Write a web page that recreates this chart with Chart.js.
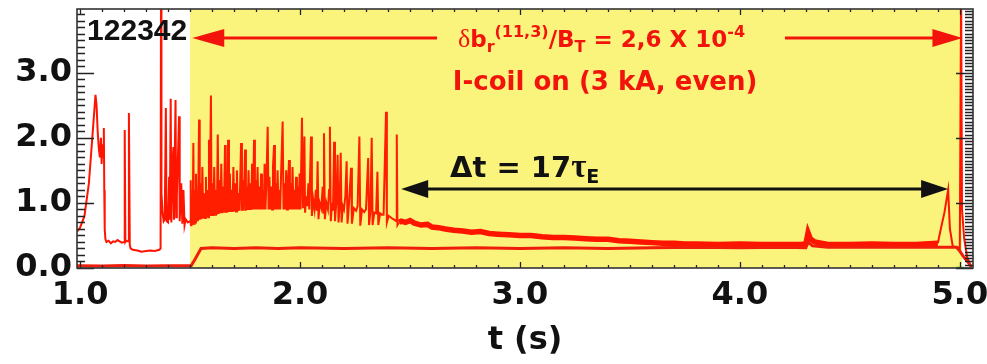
<!DOCTYPE html>
<html>
<head>
<meta charset="utf-8">
<script src="https://cdn.jsdelivr.net/npm/chart.js@4.4.1/dist/chart.umd.min.js"></script>
<style>
    html, body { margin: 0; padding: 0; background: #fff; }
    canvas { display: block; }
</style>
</head>
<body>
<canvas id="dalphaChart" width="987" height="364"></canvas>
<script>
// ---- data (t in s) ----
const shotNumber = '122342';
const xTickValues = [1, 2, 3, 4, 5];
const yTickValues = [0, 1, 2, 3];
const coilOnWindow = [1.5, 5.01];        // yellow band, I-coil on
const coilArrow = [1.51, 5.012, 3.54];   // red double arrow: from, to, level
const deltaTArrow = [2.46, 4.947, 1.21]; // black double arrow: from, to, level

// L-mode / early phase of the main trace
const earlyPts = [
    [0.986, 0.56], [1.00, 0.62], [1.02, 0.8], [1.04, 1.3], [1.06, 2.2], [1.07, 2.66], [1.075, 2.5],
    [1.08, 2.1], [1.085, 1.85], [1.09, 1.7], [1.095, 2.0], [1.098, 1.6], [1.10, 1.9], [1.105, 1.7],
    [1.108, 2.15], [1.11, 1.2], [1.112, 0.6], [1.115, 0.45], [1.12, 0.40], [1.13, 0.42], [1.14, 0.38],
    [1.15, 0.41], [1.16, 0.40], [1.17, 0.43], [1.18, 0.41], [1.19, 0.39], [1.20, 0.40], [1.203, 2.12],
    [1.206, 0.40], [1.21, 0.42], [1.218, 0.41], [1.222, 2.38], [1.226, 0.35], [1.23, 0.30], [1.24, 0.28],
    [1.26, 0.27], [1.28, 0.25], [1.30, 0.26], [1.32, 0.27], [1.34, 0.26], [1.36, 0.28], [1.366, 0.30],
    [1.368, 4.3], [1.370, 1.15], [1.375, 0.85], [1.38, 0.72], [1.385, 0.75], [1.39, 2.46], [1.393, 0.72],
    [1.40, 0.70], [1.405, 1.4], [1.408, 0.74], [1.412, 2.6], [1.415, 0.70], [1.42, 1.5], [1.424, 1.86],
    [1.427, 0.74], [1.43, 1.6], [1.434, 2.58], [1.437, 0.78], [1.44, 1.1], [1.45, 2.33], [1.453, 0.72],
    [1.46, 1.3], [1.465, 0.68], [1.47, 1.2], [1.475, 0.66], [1.48, 0.75], [1.49, 0.70], [1.50, 0.72]
];

// ELMy H-mode phase
const elmPts = [
    [1.500, 0.66], [1.503, 1.35], [1.506, 0.64], [1.509, 1.1], [1.512, 0.66], [1.515, 1.92], [1.518, 0.68],
    [1.521, 1.2], [1.524, 0.70], [1.527, 1.45], [1.530, 0.72], [1.533, 1.05], [1.536, 0.72], [1.541, 2.28],
    [1.544, 0.74], [1.548, 1.3], [1.552, 0.75], [1.556, 1.55], [1.560, 0.76], [1.564, 1.15], [1.568, 0.77],
    [1.572, 1.4], [1.576, 0.78], [1.580, 1.2], [1.583, 0.78], [1.586, 1.97], [1.589, 0.8], [1.595, 2.65],
    [1.598, 0.8], [1.602, 1.3], [1.606, 0.8], [1.610, 1.55], [1.614, 0.82], [1.618, 1.2], [1.622, 0.82],
    [1.626, 2.05], [1.630, 0.83], [1.634, 1.35], [1.638, 0.84], [1.642, 1.6], [1.646, 0.84], [1.650, 1.25],
    [1.654, 0.85], [1.659, 1.89], [1.662, 0.85], [1.666, 1.3], [1.669, 0.85], [1.673, 1.97], [1.677, 0.86],
    [1.681, 1.45], [1.685, 0.86], [1.689, 1.2], [1.693, 0.86], [1.697, 1.55], [1.701, 0.87], [1.705, 1.3],
    [1.709, 0.87], [1.713, 1.5], [1.717, 0.87], [1.721, 1.15], [1.725, 0.88], [1.732, 1.92], [1.736, 0.88],
    [1.740, 1.35], [1.744, 0.88], [1.750, 1.82], [1.754, 0.88], [1.758, 1.25], [1.762, 0.89], [1.766, 1.5],
    [1.770, 0.89], [1.774, 1.3], [1.778, 0.89], [1.782, 1.6], [1.786, 0.9], [1.791, 1.97], [1.795, 0.9],
    [1.799, 1.35], [1.803, 0.9], [1.807, 1.55], [1.811, 0.9], [1.815, 1.25], [1.819, 0.9], [1.823, 1.45],
    [1.827, 0.9], [1.831, 1.2], [1.835, 0.9], [1.839, 1.6], [1.843, 0.9], [1.847, 1.3], [1.853, 2.17],
    [1.857, 0.9], [1.861, 1.4], [1.865, 0.9], [1.869, 1.25], [1.873, 0.9], [1.877, 1.55], [1.882, 1.89],
    [1.886, 0.9], [1.890, 1.3], [1.894, 0.9], [1.898, 1.5], [1.902, 0.9], [1.906, 1.2], [1.910, 0.9],
    [1.914, 1.45], [1.921, 2.25], [1.925, 0.9], [1.929, 1.3], [1.933, 0.9], [1.937, 1.5], [1.941, 0.9],
    [1.945, 1.25], [1.950, 1.66], [1.954, 0.9], [1.958, 1.3], [1.962, 0.9], [1.966, 1.55], [1.970, 0.9],
    [1.974, 1.2], [1.978, 0.9], [1.982, 1.4], [1.986, 0.9], [1.990, 1.25], [1.994, 0.9], [1.998, 1.45],
    [2.002, 0.9], [2.009, 2.31], [2.013, 0.92], [2.016, 1.05], [2.020, 2.02], [2.023, 0.85], [2.028, 1.1],
    [2.033, 0.95], [2.038, 1.3], [2.042, 0.9], [2.050, 2.02], [2.054, 0.8], [2.060, 1.05], [2.066, 0.9],
    [2.072, 1.2], [2.076, 0.88], [2.080, 1.64], [2.084, 0.75], [2.090, 1.0], [2.097, 0.92], [2.103, 1.25],
    [2.106, 0.85], [2.109, 2.07], [2.113, 0.75], [2.120, 1.0], [2.127, 0.9], [2.132, 1.2], [2.136, 2.17],
    [2.140, 0.72], [2.146, 1.0], [2.150, 0.88], [2.155, 1.94], [2.159, 0.72], [2.165, 1.0], [2.171, 1.74],
    [2.175, 0.7], [2.180, 0.95], [2.185, 1.77], [2.189, 0.7], [2.195, 0.95], [2.200, 0.9], [2.206, 1.1],
    [2.212, 1.64], [2.216, 0.68], [2.222, 0.95], [2.232, 1.54], [2.236, 0.68], [2.245, 0.92], [2.255, 0.88],
    [2.262, 0.95], [2.270, 2.02], [2.274, 0.65], [2.282, 0.9], [2.292, 0.86], [2.300, 0.9], [2.310, 1.69],
    [2.314, 0.66], [2.320, 0.86], [2.326, 2.0], [2.330, 0.66], [2.338, 0.85], [2.346, 0.84], [2.352, 1.48],
    [2.356, 0.66], [2.364, 0.84], [2.372, 0.82], [2.380, 0.82], [2.391, 2.40], [2.395, 0.7], [2.403, 0.8],
    [2.412, 0.78], [2.420, 0.76], [2.430, 0.74], [2.438, 0.72], [2.440, 2.05], [2.443, 0.66], [2.45, 0.70]
];

// ELM-free decay phase
const decayPts = [
    [2.45, 0.70], [2.46, 0.72], [2.48, 0.70], [2.50, 0.73], [2.52, 0.69], [2.55, 0.66], [2.58, 0.67],
    [2.60, 0.63], [2.63, 0.62], [2.66, 0.60], [2.70, 0.58], [2.74, 0.57], [2.78, 0.55], [2.82, 0.56],
    [2.86, 0.53], [2.90, 0.52], [2.95, 0.51], [3.00, 0.50], [3.05, 0.50], [3.10, 0.48], [3.15, 0.47],
    [3.20, 0.47], [3.25, 0.46], [3.30, 0.45], [3.35, 0.44], [3.40, 0.44], [3.45, 0.42], [3.50, 0.41],
    [3.55, 0.40], [3.60, 0.39], [3.65, 0.38], [3.70, 0.38], [3.75, 0.37], [3.80, 0.37], [3.90, 0.36],
    [4.00, 0.37], [4.10, 0.36], [4.20, 0.36], [4.28, 0.36], [4.30, 0.37], [4.31, 0.54], [4.32, 0.45],
    [4.34, 0.40], [4.40, 0.36], [4.50, 0.36], [4.60, 0.37], [4.70, 0.36], [4.80, 0.36], [4.90, 0.38]
];

// end of discharge
const endPts = [
    [4.90, 0.38], [4.915, 0.62], [4.93, 0.85], [4.947, 1.2], [4.955, 0.6], [4.968, 0.33], [4.99, 0.32],
    [5.000, 0.30], [5.006, 4.3], [5.010, 0.9], [5.02, 0.45], [5.033, 0.17], [5.045, 0.07], [5.053, 0.01]
];

// I-coil current trace
const coilPts = [
    [0.986, 0.035], [1.1, 0.03], [1.2, 0.04], [1.3, 0.03], [1.4, 0.035], [1.505, 0.035], [1.52, 0.12],
    [1.55, 0.30], [1.6, 0.31], [1.7, 0.30], [1.8, 0.31], [1.9, 0.30], [2.0, 0.31], [2.2, 0.30], [2.4, 0.31],
    [2.6, 0.30], [2.8, 0.31], [3.0, 0.30], [3.2, 0.31], [3.4, 0.30], [3.6, 0.31], [3.8, 0.32], [4.0, 0.31],
    [4.2, 0.32], [4.3, 0.31], [4.31, 0.40], [4.33, 0.34], [4.4, 0.32], [4.6, 0.32], [4.8, 0.32],
    [4.985, 0.32], [5.0, 0.26], [5.02, 0.16], [5.04, 0.08], [5.05, 0.03]
];

const greenPts = [[4.985, 0.005], [5.02, 0.005]];

// ---- drawing helpers ----
const RED = '#f2140c';
const INK = '#111';
const sans = (size, bold = true) => `${bold ? 'bold ' : ''}${size}px "DejaVu Sans"`;

function toXY(pts) {
    return pts.map(p => ({ x: p[0], y: p[1] }));
}

function drawRuns(ctx, x, y, runs) {
    runs.forEach(run => {
        ctx.font = run.font;
        ctx.fillText(run.text, x, y + (run.dy || 0));
        x += ctx.measureText(run.text).width;
    });
}

function arrowHead(ctx, tipX, y, dir, len, half) {
    ctx.beginPath();
    ctx.moveTo(tipX, y);
    ctx.lineTo(tipX + dir * len, y - half);
    ctx.lineTo(tipX + dir * len, y + half);
    ctx.closePath();
    ctx.fill();
}

const bandPlugin = {
    id: 'coilBand',
    beforeDatasetsDraw(chart) {
        const { ctx, chartArea, scales } = chart;
        const x0 = scales.x.getPixelForValue(coilOnWindow[0]);
        const x1 = scales.x.getPixelForValue(coilOnWindow[1]);
        ctx.save();
        ctx.fillStyle = '#faf47c';
        ctx.fillRect(x0, chartArea.top, x1 - x0, chartArea.bottom - chartArea.top);
        ctx.restore();
    }
};

const framePlugin = {
    id: 'frameAndNotes',
    afterDatasetsDraw(chart) {
        const { ctx, chartArea: a, scales } = chart;
        const xs = scales.x, ys = scales.y;
        ctx.save();

        // inward ticks on all four sides
        ctx.strokeStyle = '#222';
        ctx.lineWidth = 1.3;
        ctx.beginPath();
        for (let i = 10; i <= 50; i++) {
            const px = Math.round(xs.getPixelForValue(i / 10)) + 0.5;
            if (px < a.left || px > a.right) continue;
            const len = i % 10 === 0 ? 6 : 3;
            ctx.moveTo(px, a.bottom); ctx.lineTo(px, a.bottom - len);
            ctx.moveTo(px, a.top); ctx.lineTo(px, a.top + len);
        }
        for (let i = 0; i <= 39; i++) {
            const py = Math.round(ys.getPixelForValue(i / 10)) + 0.5;
            const len = i % 10 === 0 ? 17 : 8;
            ctx.moveTo(a.left, py); ctx.lineTo(a.left + len, py);
        }
        for (let i = 0; i <= 79; i++) {
            const py = Math.round(ys.getPixelForValue(i / 20)) + 0.5;
            const len = i % 20 === 0 ? 17 : 8;
            ctx.moveTo(a.right, py); ctx.lineTo(a.right - len, py);
        }
        ctx.stroke();

        ctx.lineWidth = 1.6;
        ctx.strokeStyle = '#333';
        ctx.strokeRect(a.left, a.top, a.right - a.left, a.bottom - a.top);

        // shot number
        ctx.fillStyle = INK;
        ctx.textBaseline = 'alphabetic';
        ctx.font = 'bold 30px "Liberation Sans"';
        ctx.fillText(shotNumber, xs.getPixelForValue(1.032), ys.getPixelForValue(3.51));

        // red arrow (I-coil window)
        const ry = Math.round(ys.getPixelForValue(coilArrow[2]));
        const rl = xs.getPixelForValue(coilArrow[0]);
        const rr = xs.getPixelForValue(coilArrow[1]);
        ctx.strokeStyle = RED;
        ctx.fillStyle = RED;
        ctx.lineWidth = 3;
        ctx.beginPath();
        ctx.moveTo(rl + 20, ry); ctx.lineTo(xs.getPixelForValue(2.623), ry);
        ctx.moveTo(xs.getPixelForValue(4.205), ry); ctx.lineTo(rr - 20, ry);
        ctx.stroke();
        arrowHead(ctx, rl, ry, 1, 32, 9);
        arrowHead(ctx, rr, ry, -1, 30, 9);

        drawRuns(ctx, xs.getPixelForValue(2.718), ys.getPixelForValue(3.40), [
            { text: 'δ', font: '26px "Liberation Serif"' },
            { text: 'b', font: sans(23) },
            { text: 'r', font: sans(16), dy: 5 },
            { text: '(11,3)', font: sans(16), dy: -10 },
            { text: '/B', font: sans(23) },
            { text: 'T', font: sans(16), dy: 5 },
            { text: ' = 2,6 X 10', font: sans(23) },
            { text: '-4', font: sans(16), dy: -10 }
        ]);
        ctx.font = sans(26);
        ctx.fillText('I-coil on (3 kA, even)', xs.getPixelForValue(2.695), ys.getPixelForValue(2.74));

        // black arrow (delta t)
        const by = Math.round(ys.getPixelForValue(deltaTArrow[2]));
        const bl = xs.getPixelForValue(deltaTArrow[0]);
        const br = xs.getPixelForValue(deltaTArrow[1]);
        ctx.strokeStyle = INK;
        ctx.fillStyle = INK;
        ctx.lineWidth = 3;
        ctx.beginPath();
        ctx.moveTo(bl + 20, by); ctx.lineTo(br - 20, by);
        ctx.stroke();
        arrowHead(ctx, bl, by, 1, 27, 9);
        arrowHead(ctx, br, by, -1, 27, 9);

        drawRuns(ctx, xs.getPixelForValue(2.682), ys.getPixelForValue(1.40), [
            { text: 'Δt = 17', font: sans(29) },
            { text: 'τ', font: 'bold 33px "Liberation Serif"' },
            { text: 'E', font: sans(19), dy: 6 }
        ]);
        ctx.restore();
    }
};

const tickFont = { family: 'DejaVu Sans', weight: 'bold', size: 32 };

new Chart(document.getElementById('dalphaChart'), {
    type: 'line',
    data: {
        datasets: [
            { label: 'I-coil', data: toXY(coilPts), borderColor: '#f01c0c', borderWidth: 3 },
            { label: 'early', data: toXY(earlyPts), borderColor: '#ff1400', borderWidth: 2 },
            { label: 'ELMs', data: toXY(elmPts), borderColor: '#ff1e00', borderWidth: 2 },
            { label: 'decay', data: toXY(decayPts), borderColor: '#ff1400', borderWidth: 5.5 },
            { label: 'end', data: toXY(endPts), borderColor: '#ff1400', borderWidth: 2 },
            { label: 'zero', data: toXY(greenPts), borderColor: '#22cc22', borderWidth: 2 }
        ]
    },
    options: {
        responsive: false,
        animation: false,
        devicePixelRatio: 1,
        layout: { padding: { top: 9, right: 14, left: 0, bottom: 0 } },
        elements: { point: { radius: 0 }, line: { tension: 0 } },
        plugins: { legend: { display: false }, tooltip: { enabled: false } },
        scales: {
            x: {
                type: 'linear',
                min: 0.986,
                max: 5.06,
                afterBuildTicks: s => { s.ticks = xTickValues.map(v => ({ value: v })); },
                afterFit: s => { s.height = 96; s.paddingLeft = 0; s.paddingRight = 0; },
                grid: { display: false, drawTicks: false },
                border: { display: false },
                ticks: { font: tickFont, color: INK, padding: 8, maxRotation: 0, autoSkip: false,
                         callback: v => v.toFixed(1) },
                title: { display: true, text: 't (s)', font: tickFont, color: INK, padding: { top: 0, bottom: 4 } }
            },
            y: {
                min: 0,
                max: 3.98,
                afterBuildTicks: s => { s.ticks = yTickValues.map(v => ({ value: v })); },
                afterFit: s => { s.width = 77; s.paddingTop = 0; s.paddingBottom = 0; },
                grid: { display: false, drawTicks: false },
                border: { display: false },
                ticks: { font: tickFont, color: INK, padding: 5, autoSkip: false,
                         callback: v => v.toFixed(1) }
            }
        }
    },
    plugins: [bandPlugin, framePlugin]
});
</script>
</body>
</html>
